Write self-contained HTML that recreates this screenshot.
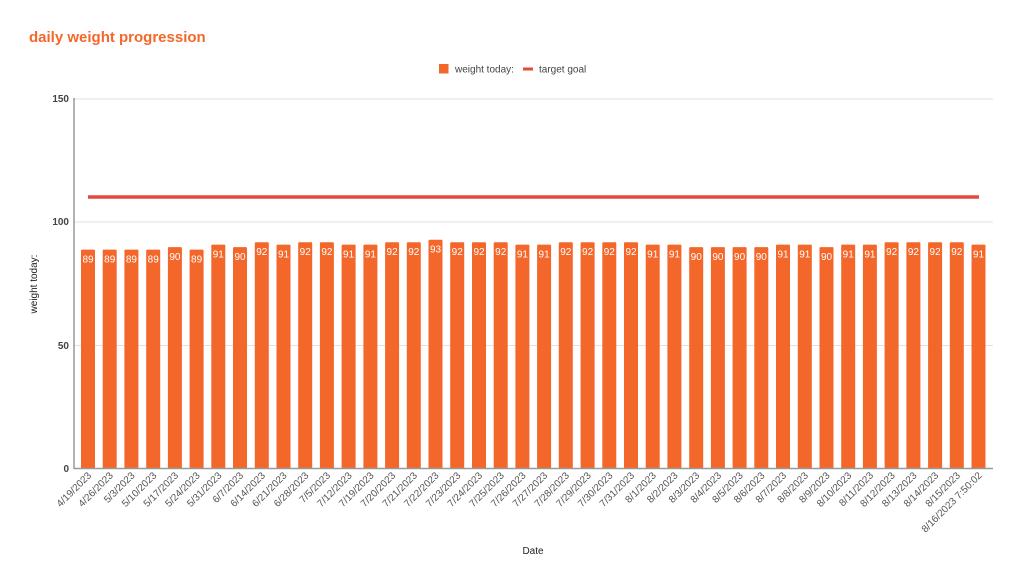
<!DOCTYPE html>
<html><head><meta charset="utf-8"><style>body{margin:0;background:#fff}svg{display:block}
.b rect{fill:#f4672a}
.b .v{font-size:10px;fill:#fff;text-anchor:middle}
.b .l{font-size:10px;fill:#555;text-anchor:end}
</style></head>
<body>
<svg width="1023" height="585" xmlns="http://www.w3.org/2000/svg" font-family="Liberation Sans, Arial, sans-serif">
<text x="29" y="42" font-size="15" font-weight="bold" fill="#f4672a">daily weight progression</text>
<rect x="439" y="64" width="9.5" height="9.5" fill="#f4672a"/>
<text x="455" y="72.5" font-size="10" fill="#444">weight today:</text>
<rect x="523" y="67.5" width="10" height="3" fill="#e04b3c"/>
<text x="539" y="72.5" font-size="10" fill="#444">target goal</text>
<g stroke="#e0e0e0" stroke-width="1">
<line x1="74" y1="99" x2="993" y2="99"/>
<line x1="74" y1="222" x2="993" y2="222"/>
<line x1="74" y1="345.5" x2="993" y2="345.5"/>
</g>
<g font-size="10" fill="#444" font-weight="bold" text-anchor="end">
<text x="69" y="102">150</text><text x="69" y="225">100</text><text x="69" y="349">50</text><text x="69" y="472">0</text>
</g>
<text transform="translate(37,284) rotate(-90)" font-size="10" fill="#222" text-anchor="middle">weight today:</text>
<text x="533" y="554" font-size="10" fill="#222" text-anchor="middle">Date</text>
<g class="b">
<g transform="translate(81.0,0)"><rect y="249.6" width="14" height="218.9" rx="1"/><text class="v" x="7" y="262.6">89</text><text class="l" transform="translate(11,476) rotate(-45)">4/19/2023</text></g>
<g transform="translate(102.7,0)"><rect y="249.6" width="14" height="218.9" rx="1"/><text class="v" x="7" y="262.6">89</text><text class="l" transform="translate(11,476) rotate(-45)">4/26/2023</text></g>
<g transform="translate(124.4,0)"><rect y="249.6" width="14" height="218.9" rx="1"/><text class="v" x="7" y="262.6">89</text><text class="l" transform="translate(11,476) rotate(-45)">5/3/2023</text></g>
<g transform="translate(146.2,0)"><rect y="249.6" width="14" height="218.9" rx="1"/><text class="v" x="7" y="262.6">89</text><text class="l" transform="translate(11,476) rotate(-45)">5/10/2023</text></g>
<g transform="translate(167.9,0)"><rect y="247.1" width="14" height="221.4" rx="1"/><text class="v" x="7" y="260.1">90</text><text class="l" transform="translate(11,476) rotate(-45)">5/17/2023</text></g>
<g transform="translate(189.6,0)"><rect y="249.6" width="14" height="218.9" rx="1"/><text class="v" x="7" y="262.6">89</text><text class="l" transform="translate(11,476) rotate(-45)">5/24/2023</text></g>
<g transform="translate(211.3,0)"><rect y="244.6" width="14" height="223.9" rx="1"/><text class="v" x="7" y="257.6">91</text><text class="l" transform="translate(11,476) rotate(-45)">5/31/2023</text></g>
<g transform="translate(233.0,0)"><rect y="247.1" width="14" height="221.4" rx="1"/><text class="v" x="7" y="260.1">90</text><text class="l" transform="translate(11,476) rotate(-45)">6/7/2023</text></g>
<g transform="translate(254.8,0)"><rect y="242.2" width="14" height="226.3" rx="1"/><text class="v" x="7" y="255.2">92</text><text class="l" transform="translate(11,476) rotate(-45)">6/14/2023</text></g>
<g transform="translate(276.5,0)"><rect y="244.6" width="14" height="223.9" rx="1"/><text class="v" x="7" y="257.6">91</text><text class="l" transform="translate(11,476) rotate(-45)">6/21/2023</text></g>
<g transform="translate(298.2,0)"><rect y="242.2" width="14" height="226.3" rx="1"/><text class="v" x="7" y="255.2">92</text><text class="l" transform="translate(11,476) rotate(-45)">6/28/2023</text></g>
<g transform="translate(319.9,0)"><rect y="242.2" width="14" height="226.3" rx="1"/><text class="v" x="7" y="255.2">92</text><text class="l" transform="translate(11,476) rotate(-45)">7/5/2023</text></g>
<g transform="translate(341.6,0)"><rect y="244.6" width="14" height="223.9" rx="1"/><text class="v" x="7" y="257.6">91</text><text class="l" transform="translate(11,476) rotate(-45)">7/12/2023</text></g>
<g transform="translate(363.4,0)"><rect y="244.6" width="14" height="223.9" rx="1"/><text class="v" x="7" y="257.6">91</text><text class="l" transform="translate(11,476) rotate(-45)">7/19/2023</text></g>
<g transform="translate(385.1,0)"><rect y="242.2" width="14" height="226.3" rx="1"/><text class="v" x="7" y="255.2">92</text><text class="l" transform="translate(11,476) rotate(-45)">7/20/2023</text></g>
<g transform="translate(406.8,0)"><rect y="242.2" width="14" height="226.3" rx="1"/><text class="v" x="7" y="255.2">92</text><text class="l" transform="translate(11,476) rotate(-45)">7/21/2023</text></g>
<g transform="translate(428.5,0)"><rect y="239.7" width="14" height="228.8" rx="1"/><text class="v" x="7" y="252.7">93</text><text class="l" transform="translate(11,476) rotate(-45)">7/22/2023</text></g>
<g transform="translate(450.2,0)"><rect y="242.2" width="14" height="226.3" rx="1"/><text class="v" x="7" y="255.2">92</text><text class="l" transform="translate(11,476) rotate(-45)">7/23/2023</text></g>
<g transform="translate(472.0,0)"><rect y="242.2" width="14" height="226.3" rx="1"/><text class="v" x="7" y="255.2">92</text><text class="l" transform="translate(11,476) rotate(-45)">7/24/2023</text></g>
<g transform="translate(493.7,0)"><rect y="242.2" width="14" height="226.3" rx="1"/><text class="v" x="7" y="255.2">92</text><text class="l" transform="translate(11,476) rotate(-45)">7/25/2023</text></g>
<g transform="translate(515.4,0)"><rect y="244.6" width="14" height="223.9" rx="1"/><text class="v" x="7" y="257.6">91</text><text class="l" transform="translate(11,476) rotate(-45)">7/26/2023</text></g>
<g transform="translate(537.1,0)"><rect y="244.6" width="14" height="223.9" rx="1"/><text class="v" x="7" y="257.6">91</text><text class="l" transform="translate(11,476) rotate(-45)">7/27/2023</text></g>
<g transform="translate(558.8,0)"><rect y="242.2" width="14" height="226.3" rx="1"/><text class="v" x="7" y="255.2">92</text><text class="l" transform="translate(11,476) rotate(-45)">7/28/2023</text></g>
<g transform="translate(580.6,0)"><rect y="242.2" width="14" height="226.3" rx="1"/><text class="v" x="7" y="255.2">92</text><text class="l" transform="translate(11,476) rotate(-45)">7/29/2023</text></g>
<g transform="translate(602.3,0)"><rect y="242.2" width="14" height="226.3" rx="1"/><text class="v" x="7" y="255.2">92</text><text class="l" transform="translate(11,476) rotate(-45)">7/30/2023</text></g>
<g transform="translate(624.0,0)"><rect y="242.2" width="14" height="226.3" rx="1"/><text class="v" x="7" y="255.2">92</text><text class="l" transform="translate(11,476) rotate(-45)">7/31/2023</text></g>
<g transform="translate(645.7,0)"><rect y="244.6" width="14" height="223.9" rx="1"/><text class="v" x="7" y="257.6">91</text><text class="l" transform="translate(11,476) rotate(-45)">8/1/2023</text></g>
<g transform="translate(667.4,0)"><rect y="244.6" width="14" height="223.9" rx="1"/><text class="v" x="7" y="257.6">91</text><text class="l" transform="translate(11,476) rotate(-45)">8/2/2023</text></g>
<g transform="translate(689.2,0)"><rect y="247.1" width="14" height="221.4" rx="1"/><text class="v" x="7" y="260.1">90</text><text class="l" transform="translate(11,476) rotate(-45)">8/3/2023</text></g>
<g transform="translate(710.9,0)"><rect y="247.1" width="14" height="221.4" rx="1"/><text class="v" x="7" y="260.1">90</text><text class="l" transform="translate(11,476) rotate(-45)">8/4/2023</text></g>
<g transform="translate(732.6,0)"><rect y="247.1" width="14" height="221.4" rx="1"/><text class="v" x="7" y="260.1">90</text><text class="l" transform="translate(11,476) rotate(-45)">8/5/2023</text></g>
<g transform="translate(754.3,0)"><rect y="247.1" width="14" height="221.4" rx="1"/><text class="v" x="7" y="260.1">90</text><text class="l" transform="translate(11,476) rotate(-45)">8/6/2023</text></g>
<g transform="translate(776.0,0)"><rect y="244.6" width="14" height="223.9" rx="1"/><text class="v" x="7" y="257.6">91</text><text class="l" transform="translate(11,476) rotate(-45)">8/7/2023</text></g>
<g transform="translate(797.8,0)"><rect y="244.6" width="14" height="223.9" rx="1"/><text class="v" x="7" y="257.6">91</text><text class="l" transform="translate(11,476) rotate(-45)">8/8/2023</text></g>
<g transform="translate(819.5,0)"><rect y="247.1" width="14" height="221.4" rx="1"/><text class="v" x="7" y="260.1">90</text><text class="l" transform="translate(11,476) rotate(-45)">8/9/2023</text></g>
<g transform="translate(841.2,0)"><rect y="244.6" width="14" height="223.9" rx="1"/><text class="v" x="7" y="257.6">91</text><text class="l" transform="translate(11,476) rotate(-45)">8/10/2023</text></g>
<g transform="translate(862.9,0)"><rect y="244.6" width="14" height="223.9" rx="1"/><text class="v" x="7" y="257.6">91</text><text class="l" transform="translate(11,476) rotate(-45)">8/11/2023</text></g>
<g transform="translate(884.6,0)"><rect y="242.2" width="14" height="226.3" rx="1"/><text class="v" x="7" y="255.2">92</text><text class="l" transform="translate(11,476) rotate(-45)">8/12/2023</text></g>
<g transform="translate(906.4,0)"><rect y="242.2" width="14" height="226.3" rx="1"/><text class="v" x="7" y="255.2">92</text><text class="l" transform="translate(11,476) rotate(-45)">8/13/2023</text></g>
<g transform="translate(928.1,0)"><rect y="242.2" width="14" height="226.3" rx="1"/><text class="v" x="7" y="255.2">92</text><text class="l" transform="translate(11,476) rotate(-45)">8/14/2023</text></g>
<g transform="translate(949.8,0)"><rect y="242.2" width="14" height="226.3" rx="1"/><text class="v" x="7" y="255.2">92</text><text class="l" transform="translate(11,476) rotate(-45)">8/15/2023</text></g>
<g transform="translate(971.5,0)"><rect y="244.6" width="14" height="223.9" rx="1"/><text class="v" x="7" y="257.6">91</text><text class="l" transform="translate(11,476) rotate(-45)">8/16/2023 7:50:02</text></g>
</g>
<line x1="74" y1="98" x2="74" y2="469" stroke="#666" stroke-width="1"/>
<line x1="74" y1="468.5" x2="993" y2="468.5" stroke="#999" stroke-width="1.5"/>
<line x1="88" y1="197" x2="979" y2="197" stroke="#e04b3c" stroke-width="3.5"/>
</svg>
</body></html>
